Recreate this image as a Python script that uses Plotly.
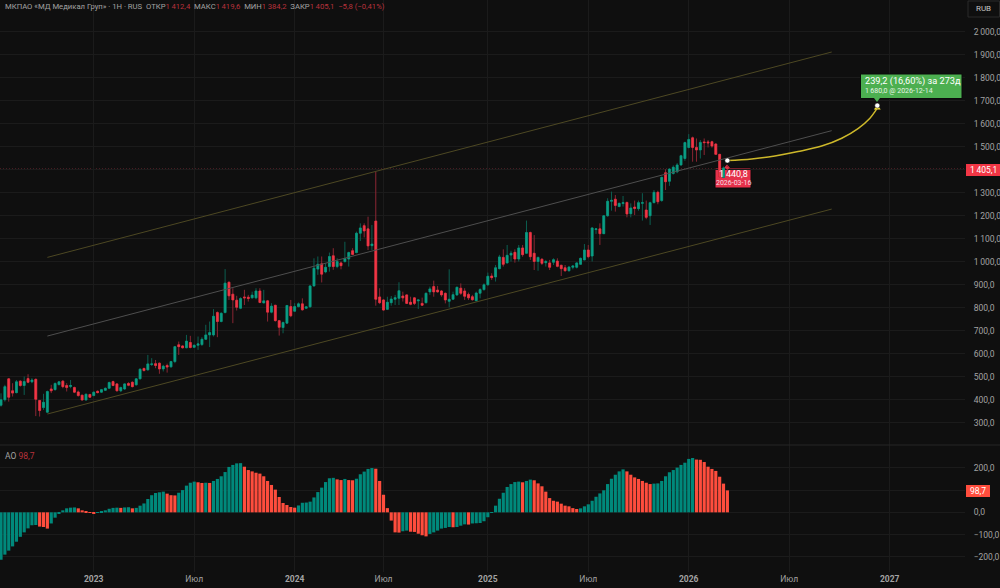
import plotly.graph_objects as go
from plotly.subplots import make_subplots

# weekly bars, x is the bar number (trading halt in 2024 so dates are not even)
opens = [377,401,492,440,432,482,463,493,479,490,
         398,367,347,448,445,467,482,463,459,454,
         435,421,400,424,419,438,434,442,451,480,
         470,440,448,472,477,466,492,537,531,554,
         558,560,535,550,544,567,640,635,627,650,
         629,638,641,664,683,683,780,741,780,912,
         860,834,799,848,847,844,844,874,822,831,
         782,812,745,715,734,806,786,806,818,799,
         805,896,969,992,957,980,1027,980,996,1002,
         1013,1049,1041,1125,1158,1144,1071,1178,848,835,
         794,823,838,842,852,857,825,844,831,820,
         823,870,893,878,874,864,829,838,857,886,
         874,859,849,832,864,880,901,939,935,971,
         1020,996,1030,1042,1013,1061,1038,1128,1038,1002,
         1012,997,996,999,1004,986,975,962,977,977,
         990,1009,1052,1026,1141,1144,1123,1201,1264,1273,
         1241,1254,1259,1210,1239,1232,1255,1226,1201,1258,
         1303,1267,1388,1351,1385,1392,1422,1450,1498,1540,
         1498,1487,1522,1522,1523,1513,1468,1368,1412.4]
closes = [401,458,412,430,479,463,480,477,487,403,
          354,390,437,440,472,479,458,454,463,434,
          419,400,425,412,434,432,445,451,476,463,
          440,454,470,464,458,492,534,528,557,557,
          550,535,547,543,567,632,632,627,656,628,
          638,644,664,683,693,764,741,777,908,853,
          835,803,841,844,841,856,874,824,831,782,
          808,745,716,737,811,766,806,818,792,805,
          896,973,990,947,977,1024,980,1002,984,1015,
          1041,1033,1125,1148,1135,1070,1078,838,823,791,
          825,839,845,875,844,820,816,820,835,812,
          864,883,870,870,857,835,838,858,890,864,
          851,844,836,865,880,901,938,932,975,1022,
          990,1029,1038,1013,1061,1032,1128,1023,1002,1020,
          994,1002,977,1010,981,971,962,978,983,996,
          1016,1052,1023,1148,1144,1123,1201,1264,1268,1246,
          1255,1258,1209,1235,1233,1258,1258,1194,1258,1303,
          1262,1368,1349,1404,1412,1422,1462,1519,1533,1498,
          1487,1520,1519,1518,1504,1468,1371,1409,1405.1]
highs = [429,466,495,473,487,485,502,512,495,493,
         400,427,441,466,476,483,486,473,487,458,
         441,422,428,427,437,441,448,454,480,484,
         474,458,473,477,481,494,537,541,596,582,
         574,563,553,558,570,635,654,638,683,679,
         641,676,673,727,741,795,785,781,969,915,
         886,853,847,879,857,871,886,886,879,835,
         821,813,748,741,813,835,821,824,842,808,
         898,1016,1024,1024,995,1041,1060,1016,1002,1088,
         1045,1060,1132,1168,1168,1197,1161,1393,886,838,
         849,852,857,912,871,859,849,847,836,845,
         867,893,919,896,878,867,968,871,893,907,
         886,867,857,871,886,907,954,951,987,1031,
         1055,1074,1049,1055,1074,1074,1180,1132,1117,1023,
         1016,1009,1009,1016,1016,987,987,983,987,999,
         1019,1078,1074,1151,1146,1168,1204,1277,1306,1291,
         1258,1287,1262,1255,1267,1267,1299,1267,1262,1313,
         1310,1371,1403,1407,1420,1430,1466,1523,1556,1545,
         1537,1530,1537,1530,1527,1516,1470,1415,1419.6]
lows = [371,393,393,415,429,458,422,473,473,330,
        328,357,343,430,441,463,451,437,451,430,
        415,398,398,409,417,429,431,439,448,460,
        437,434,444,460,455,463,490,524,528,548,
        538,514,524,519,541,560,596,624,625,625,
        626,618,635,661,630,676,673,738,777,835,
        734,789,795,813,828,842,838,821,821,741,
        777,741,680,690,731,760,785,803,789,796,
        802,893,944,911,951,958,966,973,968,997,
        980,1031,1038,1091,1107,1052,1052,810,817,788,
        791,810,813,813,828,818,812,813,796,809,
        820,857,849,867,849,820,803,835,852,857,
        835,835,832,828,842,875,896,922,915,968,
        980,994,1002,997,1002,1023,1035,1009,965,962,
        987,980,965,987,977,939,958,958,968,972,
        987,1008,1016,1002,1122,1074,1122,1197,1223,1219,
        1238,1241,1194,1194,1204,1223,1180,1186,1161,1255,
        1251,1262,1313,1331,1380,1386,1418,1440,1494,1436,
        1436,1450,1465,1498,1497,1466,1369,1365,1384.2]
ao = [-213,-190,-172,-153,-132,-110,-90,-72,-58,-57,
      -64,-66,-73,-50,-24,-4,9,18,21,22,
      18,9,3,-2,-6,-2,2,9,16,20,
      21,20,22,23,18,20,30,40,60,77,
      87,90,93,84,77,76,88,100,120,133,
      138,135,132,133,132,141,150,162,181,204,
      213,220,221,205,190,184,178,174,162,141,
      123,102,69,42,33,24,21,31,43,44,
      48,67,91,111,136,153,155,148,145,150,
      145,144,151,171,183,195,199,196,141,79,
      19,-37,-90,-91,-85,-82,-87,-88,-96,-103,
      -108,-97,-90,-82,-73,-70,-66,-67,-66,-60,
      -54,-55,-50,-49,-48,-40,-22,-2,30,61,
      88,114,127,136,138,135,141,147,144,130,
      117,93,64,52,48,39,30,27,19,15,
      18,27,36,52,70,85,99,127,151,169,
      184,193,184,169,157,150,141,133,127,129,
      130,141,162,180,190,201,213,223,240,244,
      237,236,226,205,195,186,160,129,98.7]

channel_x = [12, 215]
channel_upper = [1020, 1913]
channel_middle = [678, 1571]
channel_lower = [339, 1230]

forecast_x = [188, 194.3, 200.3, 206.3, 212.4, 217.6, 221.9, 224.9, 226.2, 226.8]
forecast_y = [1440.8, 1448, 1461, 1480, 1504, 1538, 1581, 1625, 1654, 1670]
forecast_dots_x = [188, 226.8]
forecast_dots_y = [1440.8, 1680]

date_ticks = [24, 50, 76, 99, 126, 152, 178, 204, 230]
date_labels = ["<b>2023</b>", "Июл", "<b>2024</b>", "Июл", "<b>2025</b>", "Июл", "<b>2026</b>", "Июл", "<b>2027</b>"]
price_ticks = [2000, 1900, 1800, 1700, 1600, 1500, 1400, 1300, 1200, 1100, 1000, 900, 800, 700, 600, 500, 400, 300]
price_labels = ["2\u2009000,0", "1\u2009900,0", "1\u2009800,0", "1\u2009700,0", "1\u2009600,0", "1\u2009500,0", "",
                "1\u2009300,0", "1\u2009200,0", "1\u2009100,0", "1\u2009000,0", "900,0", "800,0", "700,0",
                "600,0", "500,0", "400,0", "300,0"]
ao_ticks = [200, 100, 0, -100, -200]
ao_labels = ["200,0", "", "0,0", "\u2212100,0", "\u2212200,0"]

BG = "#0f0f0f"
GRID = "#1b1b1b"
TEXT = "#a3a3a3"
UP = "#0b9e85"
DOWN = "#f23645"
UP_WICK = "#0c5f51"
DOWN_WICK = "#8a2633"
AO_UP = "#00897b"
AO_DOWN = "#ff4d3d"
OLIVE = "#4d4823"
YELLOW = "#cdb82a"
FONT = "Roboto"
W, H = 1000, 588
bars = list(range(len(closes)))

fig = make_subplots(rows=2, cols=1, shared_xaxes=True, vertical_spacing=0)

# channel first so the candles sit over it
for vals, col in [(channel_upper, OLIVE), (channel_middle, "#4e4e4e"), (channel_lower, OLIVE)]:
    fig.add_trace(go.Scatter(x=channel_x, y=vals, mode="lines", line=dict(color=col, width=1),
                             showlegend=False, hoverinfo="skip"), row=1, col=1)

# wicks, then the bright bodies on top
fig.add_trace(go.Candlestick(x=bars, open=opens, high=highs, low=lows, close=closes, whiskerwidth=0,
                             increasing=dict(line=dict(color=UP_WICK, width=1), fillcolor=UP_WICK),
                             decreasing=dict(line=dict(color=DOWN_WICK, width=1), fillcolor=DOWN_WICK),
                             showlegend=False), row=1, col=1)
fig.add_trace(go.Candlestick(x=bars, open=opens, close=closes,
                             high=[max(o, c) for o, c in zip(opens, closes)],
                             low=[min(o, c) for o, c in zip(opens, closes)], whiskerwidth=0,
                             increasing=dict(line=dict(color=UP, width=0.5), fillcolor=UP),
                             decreasing=dict(line=dict(color=DOWN, width=0.5), fillcolor=DOWN),
                             showlegend=False), row=1, col=1)

fig.add_trace(go.Scatter(x=forecast_x, y=forecast_y, mode="lines",
                         line=dict(color=YELLOW, width=1.5, shape="spline"),
                         showlegend=False, hoverinfo="skip"), row=1, col=1)
fig.add_trace(go.Scatter(x=[forecast_x[-1]], y=[forecast_y[-1]], mode="markers",
                         marker=dict(symbol="triangle-up", size=6, color="#f5e23a"),
                         showlegend=False, hoverinfo="skip"), row=1, col=1)
fig.add_trace(go.Scatter(x=forecast_dots_x, y=forecast_dots_y, mode="markers",
                         marker=dict(size=5, color="white", line=dict(color=BG, width=0.5)),
                         showlegend=False, hoverinfo="skip"), row=1, col=1)

ao_colors = [AO_UP if i == 0 or ao[i] >= ao[i - 1] else AO_DOWN for i in range(len(ao))]
fig.add_trace(go.Bar(x=bars, y=ao, marker=dict(color=ao_colors, line=dict(width=0)), width=0.82,
                     showlegend=False), row=2, col=1)


def px_x(x):
    return x / W


def px_y(y):
    return 1 - y / H


def box(x0, y0, x1, y1, color, line=None, layer="above"):
    fig.add_shape(type="rect", xref="paper", yref="paper", x0=px_x(x0), x1=px_x(x1), y0=px_y(y0), y1=px_y(y1),
                  fillcolor=color, line=dict(color=line or color, width=1 if line else 0), layer=layer)


def tri(x, y_tip, y_base, color, layer="above"):
    path = "M {} {} L {} {} L {} {} Z".format(px_x(x - 3), px_y(y_base), px_x(x + 3), px_y(y_base), px_x(x), px_y(y_tip))
    fig.add_shape(type="path", xref="paper", yref="paper", path=path, fillcolor=color, line=dict(width=0), layer=layer)


def label(x, y, text, size=9, color=TEXT, anchor="left"):
    fig.add_annotation(xref="paper", yref="paper", x=px_x(x), y=px_y(y), text=text, showarrow=False,
                       xanchor=anchor, yanchor="middle", borderpad=0,
                       font=dict(family=FONT, size=size, color=color))


# last price line
fig.add_shape(type="line", xref="paper", yref="y", x0=0, x1=0.966, y0=closes[-1], y1=closes[-1],
              line=dict(color="#62242c", width=1, dash="1px,2px"), layer="below")

# pane separator
fig.add_shape(type="line", xref="paper", yref="paper", x0=0, x1=1, y0=px_y(445), y1=px_y(445),
              line=dict(color="#262626", width=1))

# forecast labels
box(860.5, 74, 962, 98.5, "#4caf50", line="#0a0a0a")
tri(877, 102, 98, "#4caf50")
label(864, 81, "239,2 (16,60%) за 273д", size=9.2, color="white")
label(864, 91, "1\u2009680,0 @ 2026-12-14", size=7, color="#e6f4e6")

box(715, 168, 751, 188, "#e5304a", line="#0a0a0a", layer="below")
tri(727, 164.5, 168, "#e5304a", layer="below")
label(733, 174, "1\u2009440,8", size=9, color="white", anchor="center")
label(733, 183, "2026-03-16", size=7, color="#f7dfe2", anchor="center")

# right scale tags
box(966, 164, 1000, 176, DOWN)
label(983, 170, "1\u2009405,1", size=8.5, color="white", anchor="center")
box(966, 485, 990, 497, AO_DOWN)
label(978, 491, "98,7", size=8.5, color="white", anchor="center")
box(968, 1, 999.5, 17, BG, line="#2a2a2a")
label(983.5, 9, "RUB", size=8, color="#c4c4c4", anchor="center")

# header
RED = "#b8323c"
header = ("МКПАО «МД Медикал Груп» · 1H · RUS  ОТКР<span style='color:{0}'>1\u2009412,4</span>  "
          "МАКС<span style='color:{0}'>1\u2009419,6</span>  МИН<span style='color:{0}'>1\u2009384,2</span>  "
          "ЗАКР<span style='color:{0}'>1\u2009405,1</span>  <span style='color:{0}'>\u22125,8 (\u22120,41%)</span>").format(RED)
label(4, 7, header, size=7.7)
label(4, 455.5, "AO <span style='color:{}'>98,7</span>".format(RED), size=8.5)

fig.update_layout(
    width=W, height=H, margin=dict(l=0, r=0, t=0, b=0), autosize=False,
    paper_bgcolor=BG, plot_bgcolor=BG, showlegend=False, boxgap=0.3, bargap=0.18,
    font=dict(family=FONT, size=9, color=TEXT),
)
fig.update_xaxes(range=[-0.26, 249.5], domain=[0, 0.965], tickvals=date_ticks, ticktext=date_labels,
                 showgrid=True, gridcolor=GRID, gridwidth=1, zeroline=False, showline=False,
                 ticks="", rangeslider_visible=False, tickfont=dict(family=FONT, size=8.5, color=TEXT))
fig.update_yaxes(side="right", showgrid=True, gridcolor=GRID, gridwidth=1, zeroline=False, showline=False,
                 ticks="outside", ticklen=6, tickcolor=BG, tickfont=dict(family=FONT, size=8.5, color=TEXT))
fig.update_yaxes(row=1, col=1, range=[204.3, 2139.1], domain=[px_y(445), 1], tickvals=price_ticks, ticktext=price_labels)
fig.update_yaxes(row=2, col=1, range=[-268, 302.5], domain=[px_y(572), px_y(445)], tickvals=ao_ticks, ticktext=ao_labels)

fig.write_html("out.html", config=dict(displayModeBar=False), default_width="1000px", default_height="588px",
               post_script="document.body.style.margin='0';document.documentElement.style.overflow='hidden';"
                           "document.body.style.background='#0f0f0f';")
